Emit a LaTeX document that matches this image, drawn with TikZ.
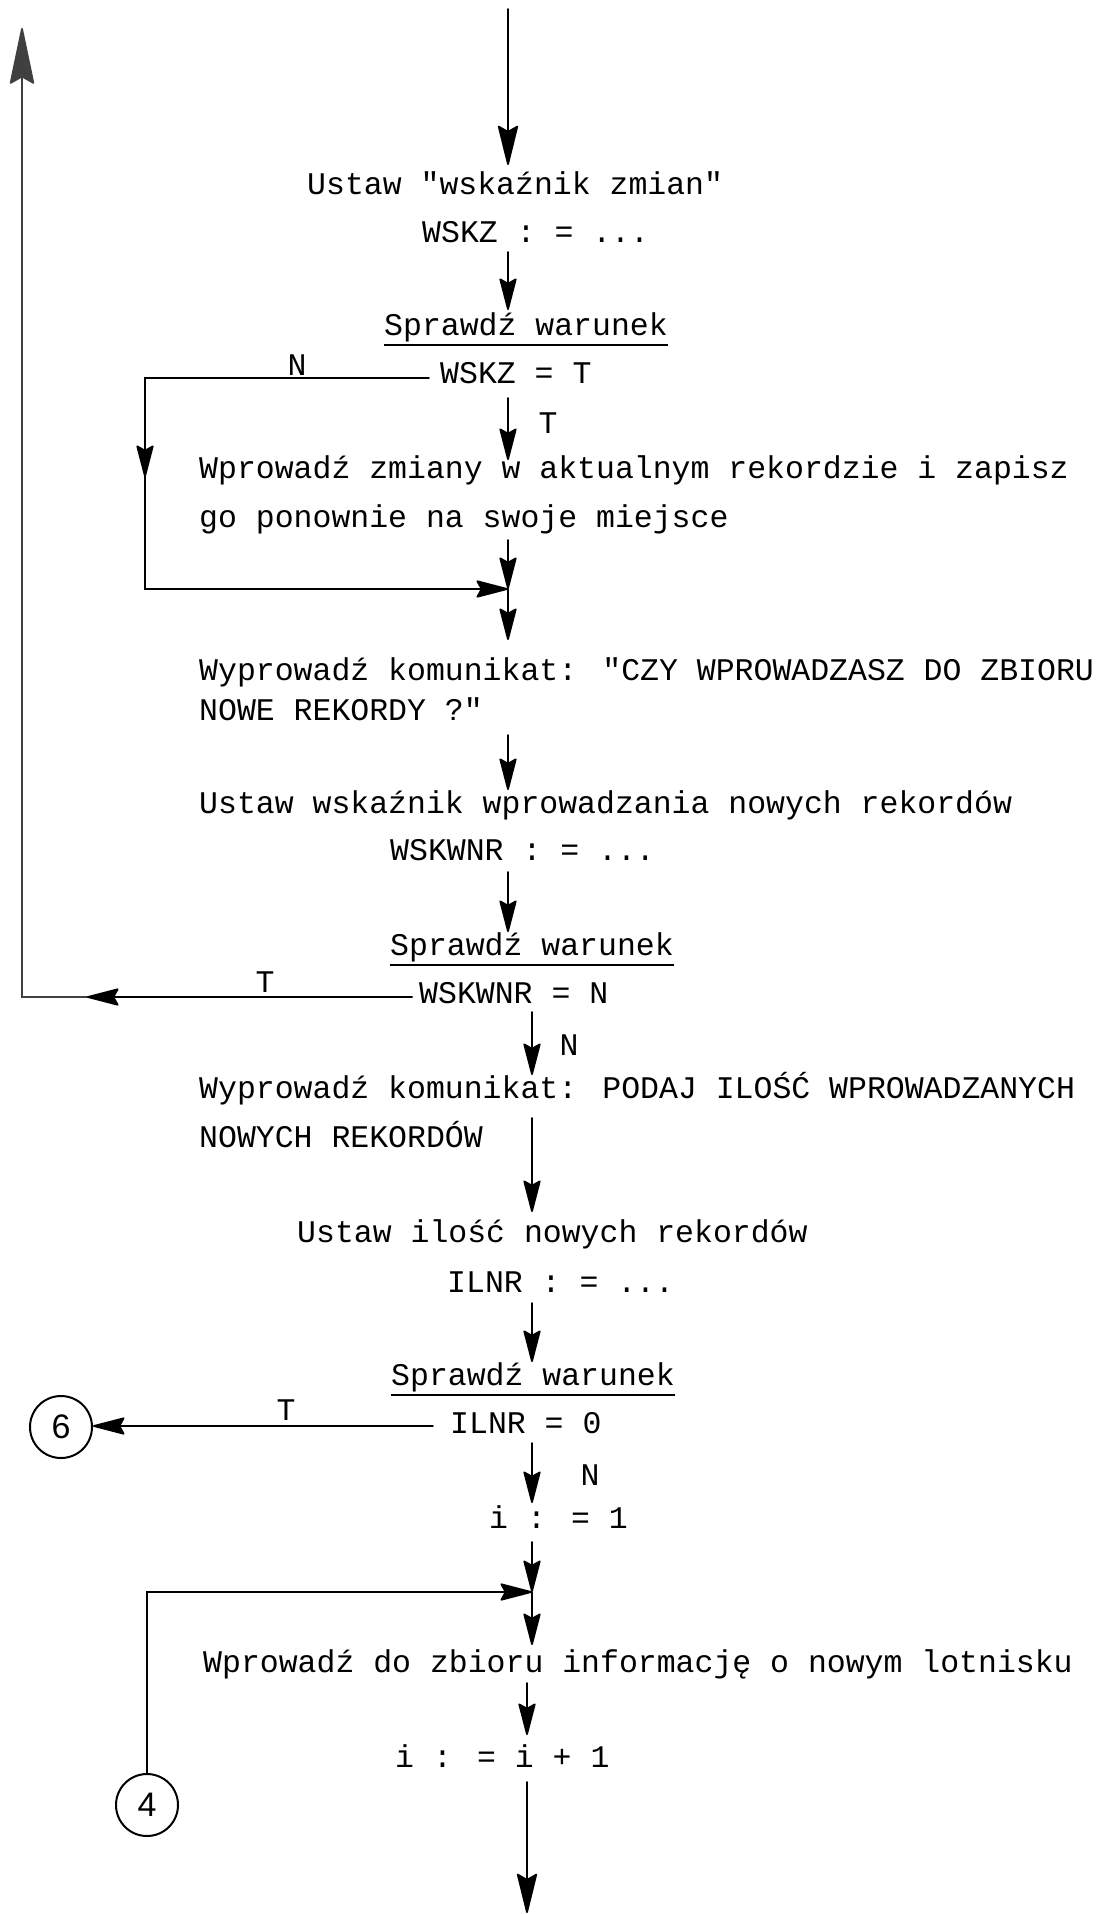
\documentclass[tikz,border=0pt]{standalone}
\usepackage{fontspec}
\setmainfont{Liberation Mono}[Ligatures=TeXOff]
\newfontfamily\handfont{Liberation Sans}
\usetikzlibrary{arrows.meta,calc}
\begin{document}
\begin{tikzpicture}[x=1pt,y=-1pt,
  txt/.style={anchor=base west, inner sep=0pt, font=\fontsize{31.5}{38}\selectfont},
  lbl/.style={anchor=center, inner sep=0pt, font=\fontsize{31.5}{38}\selectfont},
  conn/.style={line width=1.8pt, line cap=round},
  arr/.style={conn, -{Stealth[length=35pt,width=18pt,inset=5pt,round]}},
  bigarr/.style={conn, -{Stealth[length=43pt,width=21pt,inset=6pt,round]}},
  uparr/.style={conn, draw=black!75, -{Stealth[length=60pt,width=25pt,inset=7pt,round]}},
  uline/.style={line width=2.6pt},
  circ/.style={circle, draw, line width=2pt, minimum size=62pt, inner sep=0pt, font=\handfont\fontsize{34}{40}\selectfont}]
\useasboundingbox (0,0) rectangle (1095,1914);

% texts
\node[txt] (t1)  at (307,194)  {Ustaw "wskaźnik zmian"};
\node[txt] (t2)  at (422,242)  {WSKZ : = ...};
\node[txt] (c1)  at (384,335)  {Sprawdź warunek};
\node[txt] (c1b) at (440,383)  {WSKZ = T};
\node[txt] (t3a) at (199,478)  {Wprowadź zmiany w aktualnym rekordzie i zapisz};
\node[txt] (t3b) at (199,527)  {go ponownie na swoje miejsce};
\node[txt] (t4a) at (199,680)  {Wyprowadź komunikat: "CZY WPROWADZASZ DO ZBIORU};
\node[txt] (t4b) at (199,720)  {NOWE REKORDY ?"};
\node[txt] (t5)  at (199,813)  {Ustaw wskaźnik wprowadzania nowych rekordów};
\node[txt] (t6)  at (390,860)  {WSKWNR : = ...};
\node[txt] (c2)  at (390,955)  {Sprawdź warunek};
\node[txt] (c2b) at (419,1003) {WSKWNR = N};
\node[txt] (t7a) at (199,1098) {Wyprowadź komunikat: PODAJ ILOŚĆ WPROWADZANYCH};
\node[txt] (t7b) at (199,1147) {NOWYCH REKORDÓW};
\node[txt] (t8)  at (297,1242) {Ustaw ilość nowych rekordów};
\node[txt] (t9)  at (447,1292) {ILNR : = ...};
\node[txt] (c3)  at (391,1385) {Sprawdź warunek};
\node[txt] (c3b) at (450,1433) {ILNR = 0};
\node[txt] (t10) at (489,1528) {i : = 1};
\node[txt] (t11) at (203,1672) {Wprowadź do zbioru informację o nowym lotnisku};
\node[txt] (t12) at (395,1767) {i : = i + 1};

% underlines
\foreach \n in {c1,c2,c3}
  \draw[uline] ($(\n.base west)+(0,10)$) -- ($(\n.base east)+(0,10)$);

% branch labels
\node[lbl] (lN1) at (297,365)  {N};
\node[lbl] (lT1) at (548,423)  {T};
\node[lbl] (lT2) at (265,982)  {T};
\node[lbl] (lN2) at (569,1045) {N};
\node[lbl] (lT3) at (286,1410) {T};
\node[lbl] (lN3) at (590,1475) {N};

% connector circles
\node[circ] (six)  at (61,1427)  {6};
\node[circ] (four) at (147,1805) {4};

% coordinates
\coordinate (s0) at (508,9);     \coordinate (e0) at (508,165);
\coordinate (s1) at (508,252);   \coordinate (e1) at (508,310);
\coordinate (s2) at (508,398);   \coordinate (e2) at (508,460);
\coordinate (s3) at (508,540);   \coordinate (j1) at (508,589);
\coordinate (e4) at (508,640);
\coordinate (s5) at (508,735);   \coordinate (e5) at (508,790);
\coordinate (s6) at (508,872);   \coordinate (e6) at (508,932);
\coordinate (s7) at (532,1012);  \coordinate (e7) at (532,1075);
\coordinate (s8) at (532,1118);  \coordinate (e8) at (532,1212);
\coordinate (s9) at (532,1303);  \coordinate (e9) at (532,1362);
\coordinate (s10) at (532,1443); \coordinate (e10) at (532,1503);
\coordinate (s11) at (532,1542); \coordinate (j2) at (532,1592);
\coordinate (e12) at (532,1645);
\coordinate (s13) at (527,1683); \coordinate (e13) at (527,1735);
\coordinate (s14) at (527,1782); \coordinate (e14) at (527,1913);
% loop N
\coordinate (nA) at (429,378); \coordinate (nB) at (145,378);
\coordinate (nC) at (145,589); \coordinate (nM) at (145,477);
% loop T
\coordinate (tA) at (412,997); \coordinate (tB) at (22,997);
\coordinate (tC) at (22,28);   \coordinate (tM) at (87,997);
% T to 6
\coordinate (sA) at (433,1426);

% main flow
\draw[bigarr] (s0) -- (e0);
\draw[arr] (s1) -- (e1);
\draw[arr] (s2) -- (e2);
\draw[arr] (s3) -- (j1);
\draw[arr] (j1) -- (e4);
\draw[arr] (s5) -- (e5);
\draw[arr] (s6) -- (e6);
\draw[arr] (s7) -- (e7);
\draw[arr] (s8) -- (e8);
\draw[arr] (s9) -- (e9);
\draw[arr] (s10) -- (e10);
\draw[arr] (s11) -- (j2);
\draw[arr] (j2) -- (e12);
\draw[arr] (s13) -- (e13);
\draw[bigarr] (s14) -- (e14);

% loop N
\draw[arr] (nA) -- (nB) -- (nC) -- (j1);
\draw[arr] (nB) -- (nM);
% loop T
\draw[uparr] (tA) -- (tB) -- (tC);
\draw[arr] (tA) -- (tM);
% T to 6
\draw[arr] (sA) -- (sA -| six.east);
% from 4
\draw[arr] (four.north) -- (four.north |- j2) -- (j2);
\end{tikzpicture}
\end{document}
